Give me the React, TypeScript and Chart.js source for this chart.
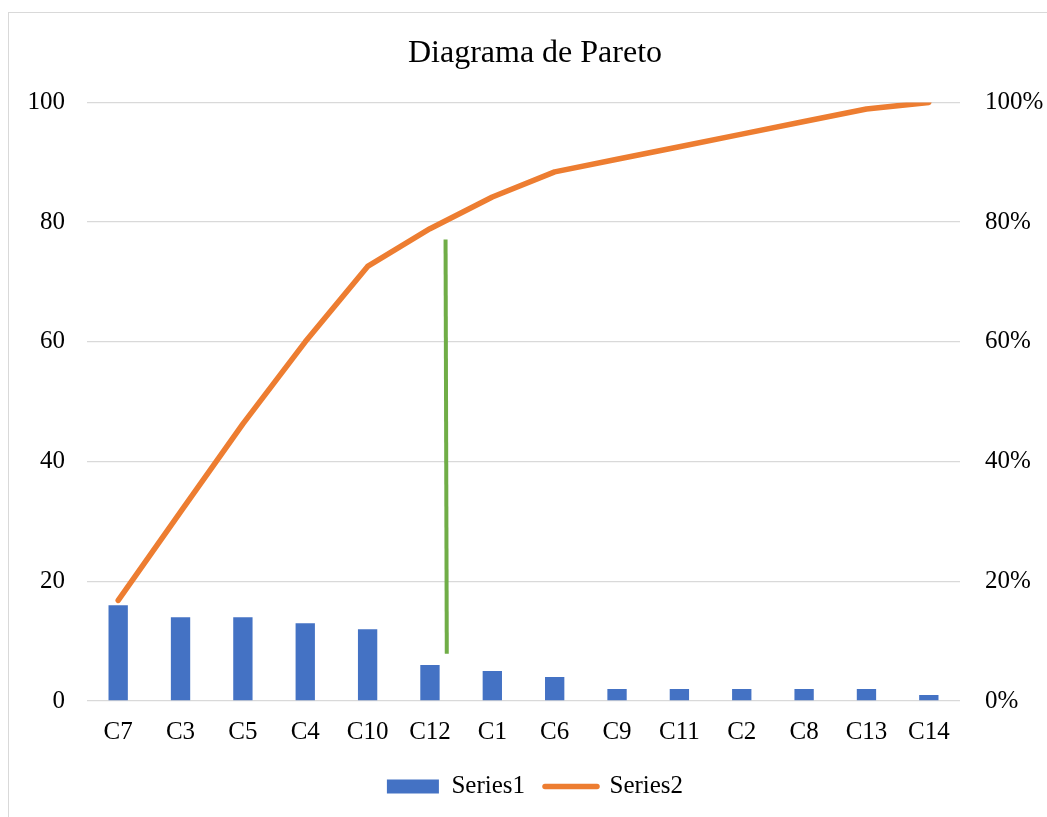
import React, { useEffect, useRef } from "react";
import { Chart, registerables } from "chart.js";

Chart.register(...registerables);

const categories = ["C7", "C3", "C5", "C4", "C10", "C12", "C1", "C6", "C9", "C11", "C2", "C8", "C13", "C14"];
const counts = [16, 14, 14, 13, 12, 6, 5, 4, 2, 2, 2, 2, 2, 1];
const cumulativeShare = [0.168, 0.316, 0.463, 0.6, 0.726, 0.789, 0.842, 0.884, 0.905, 0.926, 0.947, 0.968, 0.989, 1.0];
const leftTickValues = [0, 20, 40, 60, 80, 100];
const rightTickLabels = ["0%", "20%", "40%", "60%", "80%", "100%"];
const markerX = [5.25, 5.27];
const markerY = [77.1, 7.9];
const seriesNames = ["Series1", "Series2"];
const chartTitle = "Diagrama de Pareto";

const FONT = "'Liberation Serif', 'Times New Roman', serif";
const BLUE = "#4472C4";
const ORANGE = "#ED7D31";
const GREEN = "#70AD47";
const TICK_SIZE = 25;

export default function App() {
  const canvasRef = useRef<HTMLCanvasElement | null>(null);

  useEffect(() => {
    const canvas = canvasRef.current;
    if (!canvas) return;
    const chart = new Chart(canvas, {
      type: "bar",
      data: {
        labels: categories,
        datasets: [
          {
            type: "bar",
            label: seriesNames[0],
            data: counts,
            backgroundColor: BLUE,
            borderWidth: 0,
            barPercentage: 0.31,
            categoryPercentage: 1,
            grouped: false,
            xAxisID: "x",
            yAxisID: "y",
            order: 3,
          } as any,
          {
            type: "line",
            label: seriesNames[1],
            data: cumulativeShare,
            borderColor: ORANGE,
            backgroundColor: ORANGE,
            borderWidth: 5.5,
            pointRadius: 0,
            tension: 0,
            borderCapStyle: "round",
            borderJoinStyle: "round",
            xAxisID: "xl",
            yAxisID: "y2",
            order: 1,
          } as any,
          {
            type: "line",
            label: "marker",
            data: markerX.map((x, i) => ({ x, y: markerY[i] })),
            borderColor: GREEN,
            backgroundColor: GREEN,
            borderWidth: 4,
            pointRadius: 0,
            tension: 0,
            xAxisID: "xg",
            yAxisID: "y",
            order: 2,
          } as any,
        ],
      },
      options: {
        animation: false,
        responsive: false,
        maintainAspectRatio: false,
        layout: { padding: 0 },
        plugins: {
          title: {
            display: true,
            text: chartTitle,
            color: "#000",
            font: { family: FONT, size: 32, weight: "normal" },
            padding: { top: 21, bottom: 30 },
          },
          tooltip: { enabled: false },
          legend: {
            display: true,
            position: "bottom",
            labels: {
              usePointStyle: true,
              pointStyleWidth: 52,
              boxHeight: 14,
              padding: 20,
              color: "#000",
              font: { family: FONT, size: TICK_SIZE },
              generateLabels: () => [
                {
                  text: seriesNames[0],
                  fillStyle: BLUE,
                  strokeStyle: BLUE,
                  lineWidth: 0,
                  pointStyle: "rect",
                  datasetIndex: 0,
                  hidden: false,
                  fontColor: "#000",
                },
                {
                  text: seriesNames[1],
                  fillStyle: ORANGE,
                  strokeStyle: ORANGE,
                  lineWidth: 5.5,
                  lineCap: "round",
                  pointStyle: "line",
                  datasetIndex: 1,
                  hidden: false,
                  fontColor: "#000",
                },
              ] as any,
            },
          },
        },
        scales: {
          x: {
            type: "category",
            offset: true,
            grid: { display: false, drawTicks: false },
            border: { display: false },
            ticks: { color: "#000", font: { family: FONT, size: TICK_SIZE }, padding: 16, maxRotation: 0, autoSkip: false },
            afterFit: (scale: any) => {
              scale.height -= 9;
            },
          },
          xl: {
            type: "category",
            display: false,
            offset: true,
          },
          xg: {
            type: "linear",
            display: false,
            offset: false,
            min: -0.5,
            max: categories.length - 0.5,
          },
          y: {
            type: "linear",
            position: "left",
            min: leftTickValues[0],
            max: leftTickValues[leftTickValues.length - 1],
            afterBuildTicks: (scale: any) => {
              scale.ticks = leftTickValues.map((v) => ({ value: v }));
            },
            grid: { color: "#d9d9d9", lineWidth: 1.3, drawTicks: false },
            border: { display: false },
            ticks: { color: "#000", font: { family: FONT, size: TICK_SIZE }, padding: 22 },
            afterFit: (scale: any) => {
              scale.width = 78;
            },
          },
          y2: {
            type: "linear",
            position: "right",
            min: 0,
            max: 1,
            afterBuildTicks: (scale: any) => {
              scale.ticks = leftTickValues.map((v) => ({ value: v / 100 }));
            },
            grid: { display: false, drawTicks: false },
            border: { display: false },
            ticks: {
              color: "#000",
              font: { family: FONT, size: TICK_SIZE },
              padding: 25,
              callback: (_v: any, i: number) => rightTickLabels[i],
            },
            afterFit: (scale: any) => {
              scale.width = 101;
            },
          },
        },
      } as any,
    });
    return () => chart.destroy();
  }, []);

  return (
    <div style={{ position: "fixed", left: 0, top: 0, width: 1047, height: 817, overflow: "hidden", background: "#fff" }}>
      <div
        style={{
          position: "absolute",
          left: 8,
          top: 12,
          width: 1070,
          height: 840,
          border: "1px solid #d9d9d9",
          boxSizing: "border-box",
        }}
      >
        <canvas ref={canvasRef} width={1052} height={796} style={{ display: "block", width: 1052, height: 796 }} />
      </div>
    </div>
  );
}
